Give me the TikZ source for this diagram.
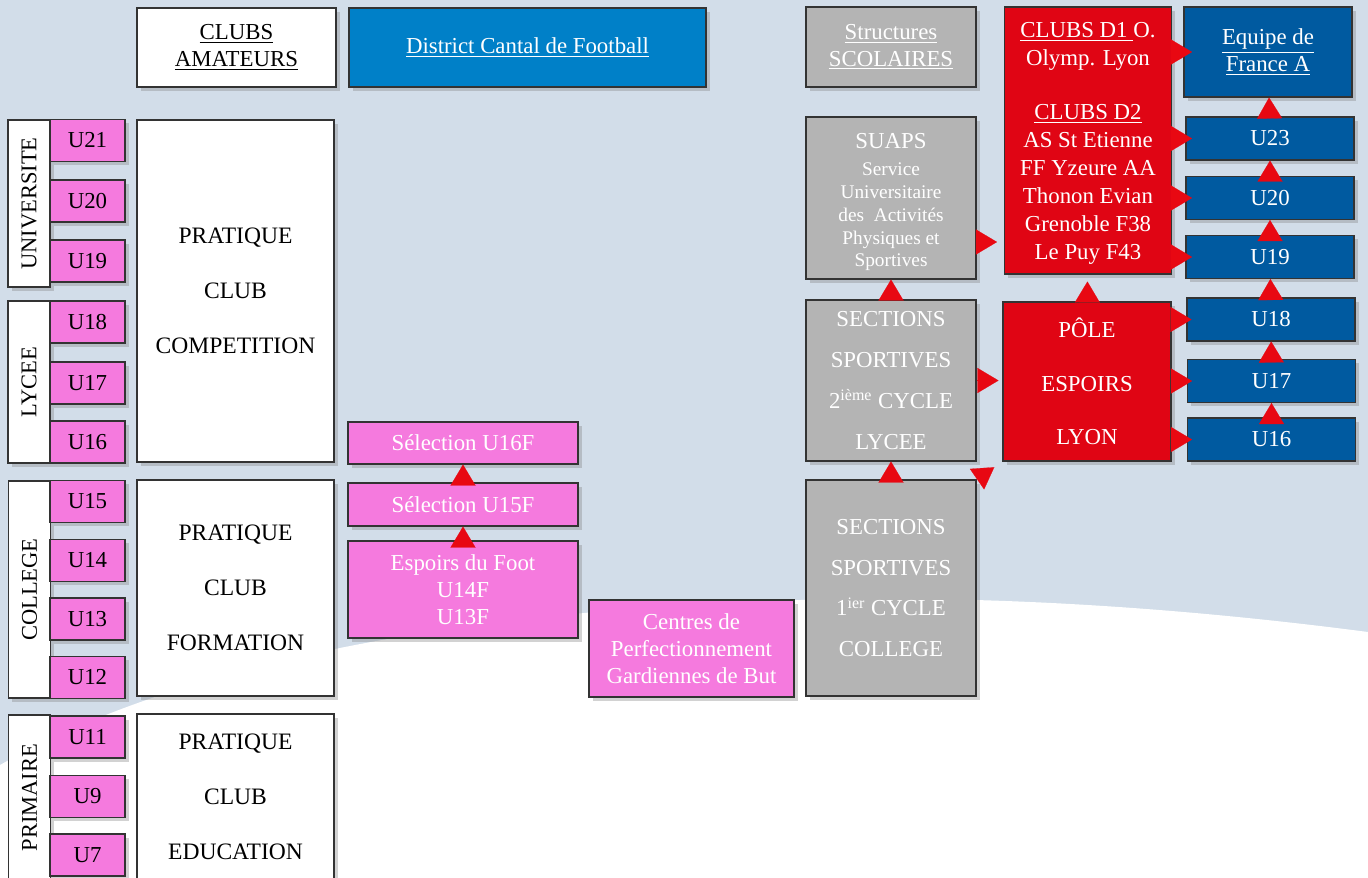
\documentclass[tikz,border=0pt]{standalone}
\usepackage{fontspec}
\setmainfont{Liberation Serif}
\usepackage{tikz}
\usetikzlibrary{shapes,arrows,arrows.meta}
\usetikzlibrary{shadows}
\usetikzlibrary{calc}
\usetikzlibrary{positioning}
\definecolor{bgblue}{RGB}{210,221,233}
\definecolor{pinkf}{RGB}{245,122,222}
\definecolor{distblue}{RGB}{0,128,200}
\definecolor{darkblue}{RGB}{0,90,160}
\definecolor{clubred}{RGB}{224,5,20}
\definecolor{trired}{RGB}{232,8,18}
\definecolor{scolgray}{RGB}{180,180,180}
\def\pxu{0.02cm}
\tikzstyle{block} = [draw=black!80, line width=0.6pt, rectangle, align=center, inner sep=1pt,
    drop shadow={shadow xshift=2pt, shadow yshift=-2pt, opacity=0.35},
    font=\fontsize{13}{15.3}\selectfont]
\tikzstyle{whitebox} = [block, fill=white, text=black]
\tikzstyle{pinkbox} = [block, fill=pinkf, text=white, minimum width=230*\pxu]
\tikzstyle{agebox} = [block, fill=pinkf, text=black, minimum width=75*\pxu, minimum height=42*\pxu]
\tikzstyle{levelbox} = [whitebox, minimum width=42*\pxu]
\tikzstyle{leveltext} = [rotate=90, inner sep=0pt, font=\fontsize{12.8}{15}\selectfont]
\tikzstyle{pratique} = [whitebox, minimum width=197*\pxu, font=\fontsize{13.4}{31.2}\selectfont]
\tikzstyle{graybox} = [block, fill=scolgray, text=white, minimum width=170*\pxu]
\tikzstyle{redbox} = [block, fill=clubred, text=white, minimum width=167*\pxu]
\tikzstyle{bluebox} = [block, fill=darkblue, text=white, minimum width=168*\pxu, minimum height=43*\pxu]
\tikzstyle{tri} = [draw=trired, line width=0.1pt, -{Triangle[length=0.42cm, width=0.5cm]}]

\begin{document}
\begin{tikzpicture}[auto, >=latex', x=\pxu, y=-\pxu]
    % background
    \clip (0,0) rectangle (1368,877);
    \fill[bgblue] (0,0) rectangle (1368,877);
    \fill[white] (0,765) .. controls (150,680) and (400,612) .. (800,600)
        .. controls (1000,594) and (1200,610) .. (1368,632) -- (1368,877) -- (0,877) -- cycle;

    % We start by placing the blocks
    \node [whitebox, minimum width=199*\pxu, minimum height=79*\pxu] (amateurs) at (236.5,47.5) {\underline{CLUBS}\\\underline{AMATEURS}};
    \node [block, fill=distblue, text=white, minimum width=357*\pxu, minimum height=79*\pxu] (district) at (527.5,47.5) {\underline{District Cantal de Football}};
    \node [graybox, minimum height=80*\pxu] (scolaires) at (891,47) {\underline{Structures}\\\underline{SCOLAIRES}};
    \node [redbox, minimum height=267*\pxu, font=\fontsize{13}{15.9}\selectfont] (d1) at (1088,140.5)
        {\rule{0pt}{12pt}\underline{CLUBS D1 }O.\\Olymp. Lyon\\[14.7pt]\underline{CLUBS D2}\\AS St Etienne\\FF Yzeure AA\\Thonon Evian\\Grenoble F38\\Le Puy F43};
    \node [block, fill=darkblue, text=white, minimum width=168*\pxu, minimum height=90*\pxu] (france) at (1268,52) {\underline{Equipe de}\\\underline{France A}};

    % school levels and ages
    \node [levelbox, minimum height=167*\pxu, label={[leveltext]center:UNIVERSITE}] (universite) at (29,203.5) {};
    \node [agebox] (u21) at (87.5,140.5) {U21};
    \node [agebox] (u20) at (87.5,201) {U20};
    \node [agebox] (u19) at (87.5,261) {U19};
    \node [levelbox, minimum height=162*\pxu, label={[leveltext]center:LYCEE}] (lycee) at (29,382) {};
    \node [agebox] (u18) at (87.5,322) {U18};
    \node [agebox] (u17) at (87.5,383) {U17};
    \node [agebox] (u16) at (87.5,442) {U16};
    \node [levelbox, minimum height=217*\pxu, label={[leveltext]center:COLLEGE}] (college) at (29.5,589.5) {};
    \node [agebox] (u15) at (87.5,501.5) {U15};
    \node [agebox] (u14) at (87.5,560.5) {U14};
    \node [agebox] (u13) at (87.5,619) {U13};
    \node [agebox] (u12) at (87.5,677.5) {U12};
    \node [levelbox, minimum height=165*\pxu, label={[leveltext]center:PRIMAIRE}] (primaire) at (29.5,797.5) {};
    \node [agebox] (u11) at (87.5,737) {U11};
    \node [agebox] (u9) at (87.5,796.5) {U9};
    \node [agebox] (u7) at (87.5,855) {U7};

    \node [pratique, minimum height=342*\pxu] (competition) at (235.5,291) {PRATIQUE\\CLUB\\COMPETITION};
    \node [pratique, minimum height=216*\pxu] (formation) at (235.5,588) {PRATIQUE\\CLUB\\FORMATION};
    \node [pratique, minimum height=166*\pxu] (education) at (235.5,797) {PRATIQUE\\CLUB\\EDUCATION};

    % girls selections
    \node [pinkbox, minimum height=42*\pxu] (sel16) at (463,443) {Sélection U16F};
    \node [pinkbox, minimum height=43*\pxu] (sel15) at (463,504.5) {Sélection U15F};
    \node [pinkbox, minimum height=97*\pxu] (espoirs) at (463,589.5) {Espoirs du Foot\\U14F\\U13F};
    \node [pinkbox, minimum width=205*\pxu, minimum height=97*\pxu] (centres) at (691.5,648.5) {Centres de\\Perfectionnement\\Gardiennes de But};

    % school structures
    \node [graybox, minimum height=162*\pxu, font=\fontsize{11}{13}\selectfont] (suaps) at (891,198)
        {{\fontsize{13}{13}\selectfont\rule{0pt}{13.5pt}SUAPS}\\[2.3pt]Service\\Universitaire\\des\enspace Activités\\Physiques et\\Sportives};
    \node [graybox, minimum height=161*\pxu, font=\fontsize{13}{23.2}\selectfont] (sec2) at (891,380.5) {SECTIONS\\SPORTIVES\\2\textsuperscript{ième} CYCLE\\LYCEE};
    \node [graybox, minimum height=216*\pxu, font=\fontsize{13}{23.2}\selectfont] (sec1) at (891,588) {SECTIONS\\SPORTIVES\\1\textsuperscript{ier} CYCLE\\COLLEGE};

    \node [redbox, minimum width=168*\pxu, minimum height=159*\pxu, font=\fontsize{13}{30.6}\selectfont] (pole) at (1087,381.5) {PÔLE\\ESPOIRS\\LYON};

    % national teams
    \node [bluebox] (u23b) at (1270,138.5) {U23};
    \node [bluebox] (u20b) at (1270,198) {U20};
    \node [bluebox] (u19b) at (1270,257) {U19};
    \node [bluebox] (u18b) at (1271,319.5) {U18};
    \node [bluebox] (u17b) at (1271.5,381) {U17};
    \node [bluebox] (u16b) at (1271.5,439.5) {U16};

    % red triangles between the blocks
    \draw [tri] (espoirs) -- (sel15);
    \draw [tri] (sel15) -- (sel16);
    \draw [tri] (sec1) -- (sec2);
    \draw [tri] (sec2) -- (suaps);
    \draw [tri, shorten >=0.14cm] (pole) -- (d1);
    \draw [tri] (u23b) -- (france);
    \draw [tri] (u20b) -- (u23b);
    \draw [tri] (u19b) -- (u20b);
    \draw [tri] (u18b) -- (u19b);
    \draw [tri] (u17b) -- (u18b);
    \draw [tri] (u16b) -- (u17b);

    \coordinate (suapsout) at ([yshift=-0.88cm]suaps.east);
    \draw [tri, shorten >=0.14cm] (suapsout) -- (suapsout -| d1.west);
    \draw [tri, shorten >=0.08cm] (sec2.east) -- (sec2.east -| pole.west);
    \draw [tri, shorten >=0.2cm] (sec1.north east) -- (pole.south west);

    \draw [tri, shorten >=-0.17cm] (d1.east |- france.west) -- (france.west);
    \draw [tri, shorten >=-0.13cm] (d1.east |- u23b.west) -- (u23b.west);
    \draw [tri, shorten >=-0.13cm] (d1.east |- u20b.west) -- (u20b.west);
    \draw [tri, shorten >=-0.13cm] (d1.east |- u19b.west) -- (u19b.west);
    \draw [tri, shorten >=-0.1cm] (pole.east |- u18b.west) -- (u18b.west);
    \draw [tri, shorten >=-0.1cm] (pole.east |- u17b.west) -- (u17b.west);
    \draw [tri, shorten >=-0.1cm] (pole.east |- u16b.west) -- (u16b.west);
\end{tikzpicture}
\end{document}
